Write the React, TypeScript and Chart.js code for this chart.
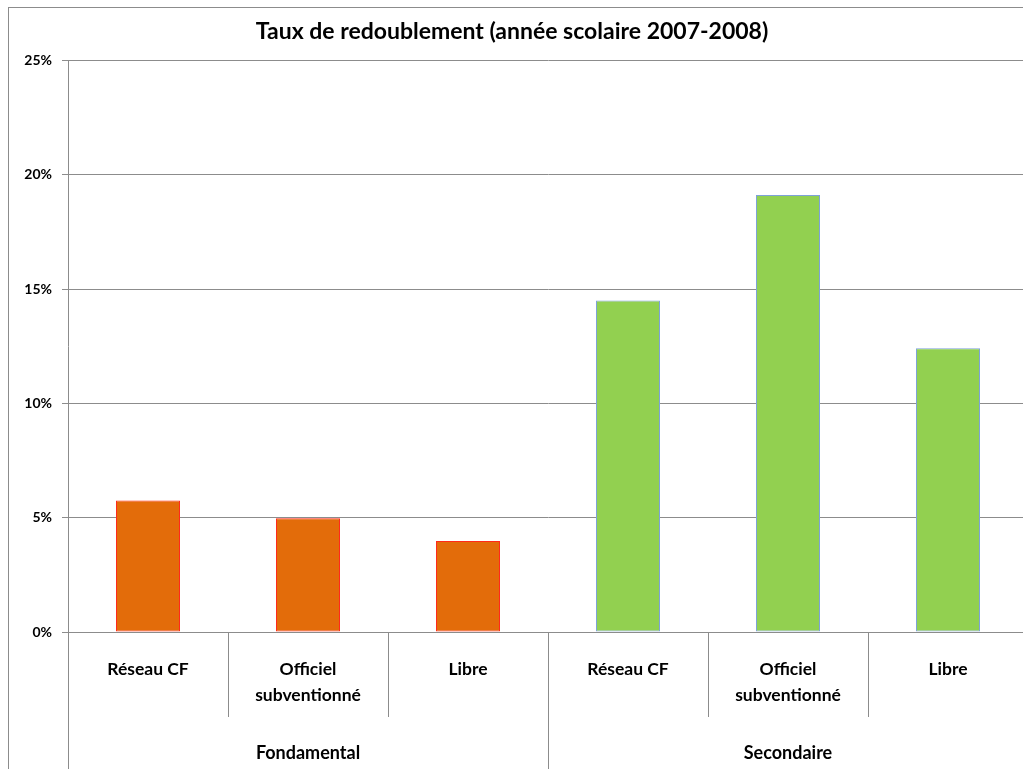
import React, { useEffect, useRef } from 'react';
import { Chart, registerables } from 'chart.js';

Chart.register(...registerables);

// Chart text and values
const TITLE = 'Taux de redoublement (année scolaire 2007-2008)';
const categories: (string | string[])[] = ['Réseau CF', ['Officiel', 'subventionné'], 'Libre'];
const groups = ['Fondamental', 'Secondaire'];
const fondamental = [5.75, 4.98, 3.98];
const secondaire = [14.5, 19.12, 12.42];
const yMin = 0;
const yMax = 25;
const yStep = 5;

// Styling
const FONT = 'Lato, "Open Sans", sans-serif';
const GRID = '#8c8c8c';
const ORANGE = '#e36c0a';
const ORANGE_EDGE = '#ff2a1a';
const GREEN = '#92d050';
const GREEN_EDGE = '#7ea2d8';

const labels = [...categories, ...categories];
const values = [...fondamental, ...secondaire];
const groupIndex = [...fondamental.map(() => 0), ...secondaire.map(() => 1)];

// Draws the category separators, the group separators and the group names under the x axis
const groupAxisPlugin = {
  id: 'groupAxis',
  afterDraw(chart: any) {
    const { ctx, chartArea, scales } = chart;
    const x = scales.x;
    const n = labels.length;
    const per = categories.length;
    const bounds: number[] = [chartArea.left];
    for (let i = 0; i < n - 1; i++) {
      bounds.push((x.getPixelForValue(i) + x.getPixelForValue(i + 1)) / 2);
    }
    bounds.push(chartArea.right);

    ctx.save();
    ctx.strokeStyle = GRID;
    ctx.lineWidth = 1;
    bounds.forEach((bx, i) => {
      const groupEdge = i % per === 0;
      const yEnd = groupEdge ? chart.height : chartArea.bottom + 85;
      const px = Math.round(bx) + 0.5;
      ctx.beginPath();
      ctx.moveTo(px, chartArea.bottom);
      ctx.lineTo(px, yEnd);
      ctx.stroke();
    });

    ctx.font = `bold 18px ${FONT}`;
    ctx.fillStyle = '#000';
    ctx.textAlign = 'center';
    ctx.textBaseline = 'middle';
    groups.forEach((g, gi) => {
      const cx = (bounds[gi * per] + bounds[(gi + 1) * per]) / 2;
      ctx.fillText(g, cx, chartArea.bottom + 121);
    });
    ctx.restore();
  },
};

// Extends the y axis line down through the category rows
const axisTailPlugin = {
  id: 'axisTail',
  afterDraw(c: any) {
    const { ctx, chartArea } = c;
    ctx.save();
    ctx.strokeStyle = GRID;
    ctx.lineWidth = 1;
    ctx.beginPath();
    const px = Math.round(chartArea.left) + 0.5;
    ctx.moveTo(px, chartArea.bottom);
    ctx.lineTo(px, c.height);
    ctx.stroke();
    ctx.restore();
  },
};

export default function App() {
  const canvasRef = useRef<HTMLCanvasElement | null>(null);

  useEffect(() => {
    if (!canvasRef.current) return;
    const chart = new Chart(canvasRef.current, {
      type: 'bar',
      data: {
        labels,
        datasets: [
          {
            data: values,
            backgroundColor: groupIndex.map((g) => (g === 0 ? ORANGE : GREEN)),
            borderColor: groupIndex.map((g) => (g === 0 ? ORANGE_EDGE : GREEN_EDGE)),
            borderWidth: 1,
            borderSkipped: false,
            barPercentage: 0.4,
            categoryPercentage: 1,
          },
        ],
      },
      options: {
        animation: false,
        responsive: false,
        maintainAspectRatio: false,
        layout: { padding: { left: 6, right: 0, top: 0, bottom: 0 } },
        plugins: {
          legend: { display: false },
          tooltip: { enabled: false },
          title: {
            display: true,
            text: TITLE,
            color: '#000',
            font: { family: FONT, size: 23, weight: 'bold', lineHeight: 1.2 },
            padding: { top: 18, bottom: 15 },
          },
        },
        scales: {
          x: {
            grid: { display: false },
            border: { display: false },
            ticks: {
              color: '#000',
              font: { family: FONT, size: 17.5, weight: 'bold', lineHeight: 1.45 },
              padding: 17,
              autoSkip: false,
              maxRotation: 0,
              minRotation: 0,
            },
            afterFit: (s: any) => {
              s.height = 168;
            },
          },
          y: {
            min: yMin,
            max: yMax,
            ticks: {
              stepSize: yStep,
              color: '#000',
              font: { family: FONT, size: 14, weight: 'bold' },
              padding: 10,
              callback: (v: any) => `${v}%`,
            },
            grid: { color: GRID, lineWidth: 1, tickLength: 6 },
            border: { display: true, color: GRID, width: 1 },
            afterFit: (s: any) => {
              s.width = 72;
            },
          },
        },
      },
      plugins: [groupAxisPlugin, axisTailPlugin],
    });
    return () => chart.destroy();
  }, []);

  return (
    <div
      style={{
        position: 'fixed',
        left: 0,
        top: 0,
        width: 1023,
        height: 769,
        overflow: 'hidden',
        background: '#fff',
      }}
    >
      <div
        style={{
          position: 'absolute',
          left: 8,
          top: 7,
          width: 1100,
          height: 900,
          border: `1px solid ${GRID}`,
          boxSizing: 'border-box',
        }}
      />
      <canvas
        ref={canvasRef}
        width={1038}
        height={800}
        style={{ position: 'absolute', left: -10, top: 0, width: 1038, height: 800 }}
      />
    </div>
  );
}
